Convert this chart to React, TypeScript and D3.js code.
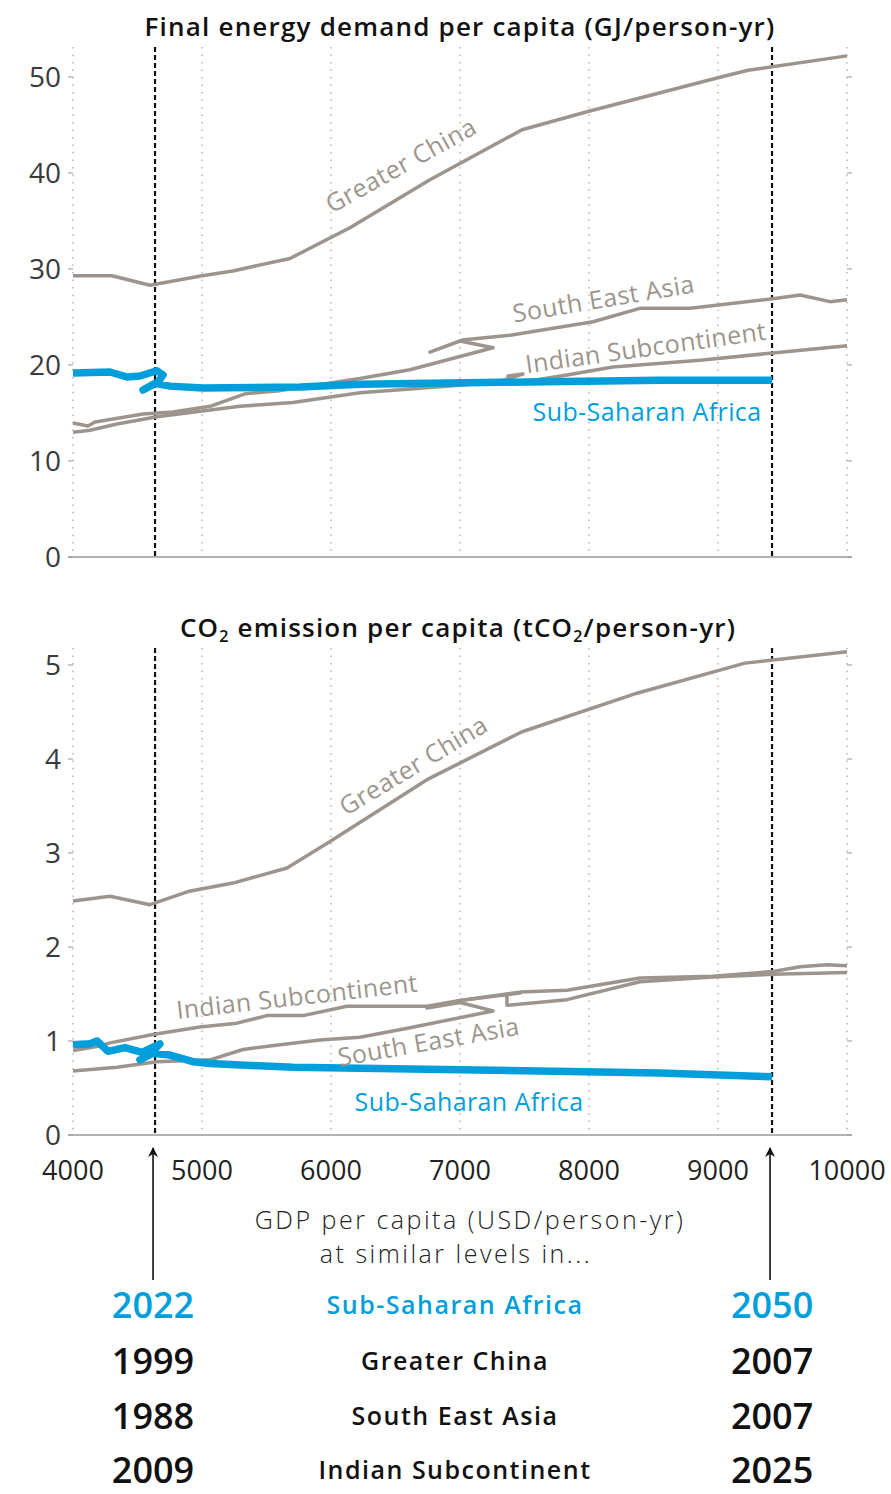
import * as d3 from 'd3';

// GDP per capita (USD/person-yr) vs. per-capita energy / CO2
const xTicks = [4000, 5000, 6000, 7000, 8000, 9000, 10000];
const energyTicks = [0, 10, 20, 30, 40, 50];
const co2Ticks = [0, 1, 2, 3, 4, 5];
const refGdp = [4636, 9419]; // SSA GDP in 2022 and 2050

const energyChina: [number, number][] = [
  [4000, 29.3], [4302, 29.3], [4597, 28.3], [5000, 29.3], [5240, 29.8], [5682, 31.1],
  [6147, 34.3], [6767, 39.3], [7481, 44.5], [7992, 46.4], [8992, 49.9], [9233, 50.7], [10000, 52.2],
];
const energySea: [number, number][] = [
  [4000, 13.96], [4116, 13.65], [4171, 14.06], [4543, 14.9], [4775, 15.1], [5062, 15.7],
  [5333, 17.0], [5581, 17.3], [6225, 18.6], [6612, 19.5], [7256, 21.8], [7000, 22.5],
  [6767, 21.35], [7016, 22.6], [7388, 23.1], [8031, 24.5], [8395, 25.9], [8783, 25.9],
  [9426, 26.9], [9636, 27.3], [9868, 26.6], [10000, 26.8],
];
const energyIndia: [number, number][] = [
  [4000, 13.0], [4132, 13.2], [4341, 13.85], [4651, 14.6], [5295, 15.7], [5705, 16.1],
  [6225, 17.1], [7000, 17.9], [7310, 18.3], [7488, 19.06], [7372, 18.85], [7372, 18.0],
  [7829, 18.96], [8186, 19.8], [8860, 20.5], [9426, 21.25], [10000, 22.0],
];
const energySsa: [number, number][] = [
  [4000, 19.17], [4287, 19.27], [4419, 18.75], [4519, 18.85], [4651, 19.4], [4698, 18.96],
  [4659, 18.2], [4543, 17.4], [4636, 18.1], [4752, 17.8], [5008, 17.6], [5760, 17.7],
  [6225, 18.0], [7310, 18.2], [8550, 18.4], [9419, 18.4],
];

const co2China: [number, number][] = [
  [4000, 2.49], [4287, 2.54], [4597, 2.45], [4891, 2.59], [5240, 2.68], [5659, 2.84],
  [5977, 3.11], [6744, 3.78], [7481, 4.29], [8372, 4.70], [9209, 5.02], [10000, 5.14],
];
const co2Sea: [number, number][] = [
  [4000, 0.68], [4341, 0.72], [4651, 0.78], [5062, 0.80], [5318, 0.91], [5605, 0.96],
  [5915, 1.01], [6225, 1.04], [6612, 1.14], [7256, 1.32], [7000, 1.41], [6744, 1.35],
  [7000, 1.43], [7465, 1.52], [7829, 1.54], [8395, 1.67], [8961, 1.69], [9426, 1.74],
  [9636, 1.79], [9845, 1.81], [10000, 1.80],
];
const co2India: [number, number][] = [
  [4000, 0.90], [4186, 0.94], [4287, 0.98], [4620, 1.07], [4984, 1.15], [5271, 1.19],
  [5504, 1.27], [5783, 1.27], [6124, 1.37], [6744, 1.37], [7000, 1.43], [7465, 1.51],
  [7364, 1.50], [7364, 1.38], [7829, 1.44], [8395, 1.63], [8961, 1.68], [9426, 1.71], [10000, 1.73],
];
const co2Ssa: [number, number][] = [
  [4000, 0.96], [4132, 0.97], [4186, 1.0], [4271, 0.89], [4403, 0.93], [4535, 0.88],
  [4674, 0.97], [4620, 0.89], [4519, 0.80], [4620, 0.87], [4752, 0.85], [4930, 0.78],
  [5062, 0.76], [5705, 0.72], [6225, 0.71], [8550, 0.66], [9419, 0.62],
];

const rowStartYears = ['2022', '1999', '1988', '2009'];
const rowRegions = ['Sub-Saharan Africa', 'Greater China', 'South East Asia', 'Indian Subcontinent'];
const rowEndYears = ['2050', '2007', '2007', '2025'];

const GRAY = '#9d958d';
const BLUE = '#009fdb';
const FONT = '"Open Sans", "Noto Sans", sans-serif';

const W = 891;
const H = 1494;

const x = d3.scaleLinear().domain([4000, 10000]).range([73, 847]);
const yTop = d3.scaleLinear().domain([0, 50]).range([557, 77]);
const yBot = d3.scaleLinear().domain([0, 5]).range([1135, 665]);

type Label = { text: string; gdp: number; val: number; angle: number; color: string };

function Panel({ y, ticks, top, series, labels }: {
  y: d3.ScaleLinear<number, number>;
  ticks: number[];
  top: number;
  series: { data: [number, number][]; color: string; width: number }[];
  labels: Label[];
}) {
  const bottom = y(0);
  const line = d3.line<[number, number]>().x(d => x(d[0])).y(d => y(d[1]));
  return (
    <g>
      {xTicks.map(t => (
        <line key={t} x1={x(t)} x2={x(t)} y1={top} y2={bottom} stroke="#aaa" strokeWidth={1.3} strokeDasharray="1.5,6" />
      ))}
      <line x1={x(4000) - 5} x2={x(10000) + 5} y1={bottom} y2={bottom} stroke="#999" strokeWidth={1.3} />
      {ticks.map(t => (
        <g key={t}>
          <line x1={x(4000) - 5} x2={x(4000)} y1={y(t)} y2={y(t)} stroke="#999" strokeWidth={1} />
          <line x1={x(10000)} x2={x(10000) + 5} y1={y(t)} y2={y(t)} stroke="#999" strokeWidth={1} />
          <text x={x(4000) - 12} y={y(t)} dy="0.36em" textAnchor="end" fontSize={28} fill="#3a3a3a" fontFamily={FONT}>
            {t}
          </text>
        </g>
      ))}
      {refGdp.map(g => (
        <line key={g} x1={x(g)} x2={x(g)} y1={top} y2={bottom} stroke="#111" strokeWidth={2.2} strokeDasharray="5,3" />
      ))}
      {series.map((s, i) => (
        <path key={i} d={line(s.data) ?? ''} fill="none" stroke={s.color} strokeWidth={s.width}
          strokeLinejoin="round" strokeLinecap="butt" />
      ))}
      {labels.map(l => (
        <text key={l.text} transform={`translate(${x(l.gdp)},${y(l.val)}) rotate(${l.angle})`}
          textAnchor="middle" fontSize={25} letterSpacing={0.4} fill={l.color} fontFamily={FONT}>
          {l.text}
        </text>
      ))}
    </g>
  );
}

export default function App() {
  const topLabels: Label[] = [
    { text: 'Greater China', gdp: 6574, val: 40.0, angle: -29, color: GRAY },
    { text: 'South East Asia', gdp: 8124, val: 26.0, angle: -9.5, color: GRAY },
    { text: 'Indian Subcontinent', gdp: 8450, val: 20.9, angle: -8, color: GRAY },
    { text: 'Sub-Saharan Africa', gdp: 8450, val: 14.2, angle: 0, color: BLUE },
  ];
  const botLabels: Label[] = [
    { text: 'Greater China', gdp: 6674, val: 3.85, angle: -31, color: GRAY },
    { text: 'Indian Subcontinent', gdp: 5744, val: 1.38, angle: -6.5, color: GRAY },
    { text: 'South East Asia', gdp: 6767, val: 0.90, angle: -10, color: GRAY },
    { text: 'Sub-Saharan Africa', gdp: 7070, val: 0.255, angle: 0, color: BLUE },
  ];
  const rowY = [1318, 1374, 1429, 1483];

  return (
    <svg width={W} height={H} style={{ position: 'absolute', left: 0, top: 0, background: '#fff' }}>
      <text x={460} y={36} textAnchor="middle" fontSize={26} letterSpacing={1.2} fontWeight={600} fill="#111" fontFamily={FONT}>
        Final energy demand per capita (GJ/person-yr)
      </text>
      <Panel y={yTop} ticks={energyTicks} top={47}
        series={[
          { data: energyChina, color: GRAY, width: 3.5 },
          { data: energySea, color: GRAY, width: 3.5 },
          { data: energyIndia, color: GRAY, width: 3.5 },
          { data: energySsa, color: BLUE, width: 7.5 },
        ]}
        labels={topLabels} />

      <text x={458} y={637} textAnchor="middle" fontSize={26} letterSpacing={1.2} fontWeight={600} fill="#111" fontFamily={FONT}>
        CO<tspan dy={5} fontSize={16}>2</tspan><tspan dy={-5}> emission per capita (tCO</tspan><tspan dy={5} fontSize={16}>2</tspan><tspan dy={-5}>/person-yr)</tspan>
      </text>
      <Panel y={yBot} ticks={co2Ticks} top={648}
        series={[
          { data: co2China, color: GRAY, width: 3.5 },
          { data: co2Sea, color: GRAY, width: 3.5 },
          { data: co2India, color: GRAY, width: 3.5 },
          { data: co2Ssa, color: BLUE, width: 7.5 },
        ]}
        labels={botLabels} />

      {xTicks.map(t => (
        <text key={t} x={x(t)} y={1180} textAnchor="middle" fontSize={27} fill="#222" fontFamily={FONT}>
          {t}
        </text>
      ))}

      <defs>
        <marker id="arrowhead" viewBox="0 -5 10 10" refX={9} refY={0} markerWidth={10} markerHeight={10}
          markerUnits="userSpaceOnUse" orient="auto">
          <path d="M0,-5L10,0L0,5L3,0Z" fill="#111" />
        </marker>
      </defs>
      {refGdp.map(g => (
        <line key={g} x1={x(g) - 2} x2={x(g) - 2} y1={1280} y2={1148} stroke="#111" strokeWidth={1.6}
          markerEnd="url(#arrowhead)" />
      ))}

      <text x={470} y={1229} textAnchor="middle" fontSize={25} letterSpacing={2.5} fill="#222" fontFamily={FONT} fontWeight={300}>
        GDP per capita (USD/person-yr)
      </text>
      <text x={456} y={1263} textAnchor="middle" fontSize={25} letterSpacing={2.5} fill="#222" fontFamily={FONT} fontWeight={300}>
        at similar levels in...
      </text>

      {rowRegions.map((r, i) => {
        const c = i === 0 ? BLUE : '#111';
        return (
          <g key={r} fontFamily={FONT} fontWeight={600} fill={c}>
            <text x={x(refGdp[0]) - 2} y={rowY[i]} textAnchor="middle" fontSize={36}>{rowStartYears[i]}</text>
            <text x={455} y={rowY[i] - 4} textAnchor="middle" fontSize={25} letterSpacing={1.5}>{r}</text>
            <text x={x(refGdp[1])} y={rowY[i]} textAnchor="middle" fontSize={36}>{rowEndYears[i]}</text>
          </g>
        );
      })}
    </svg>
  );
}
